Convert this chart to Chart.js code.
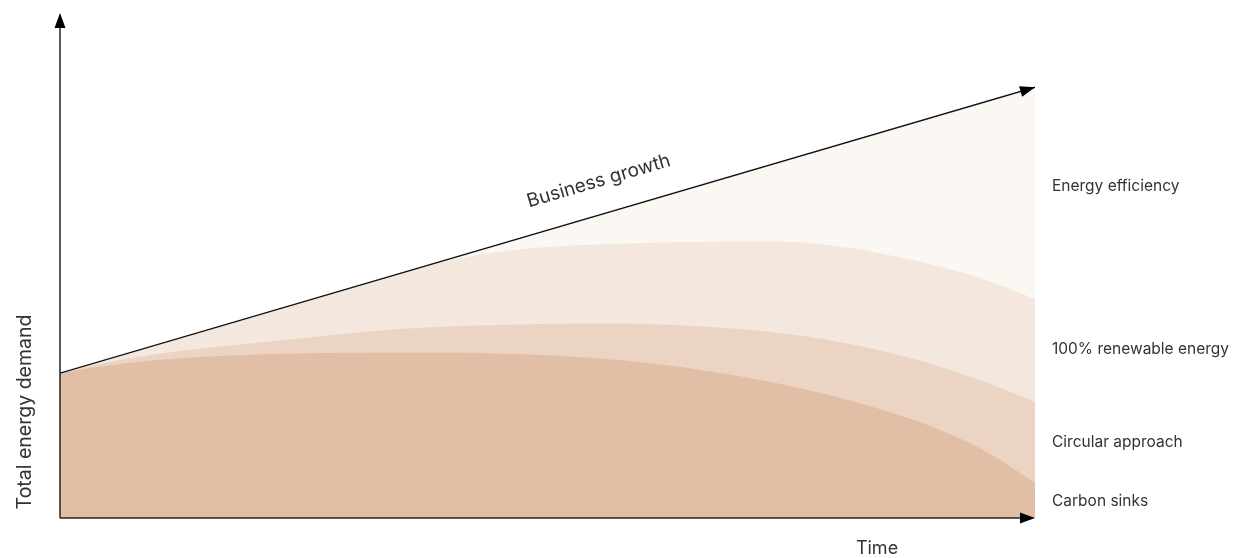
<!DOCTYPE html>
<html>
<head>
<meta charset="utf-8">
<script src="https://cdn.jsdelivr.net/npm/chart.js@4"></script>
<style>
  html, body { margin: 0; padding: 0; background: #ffffff; }
  #wrap { width: 1247px; height: 558px; position: relative; }
</style>
</head>
<body>
<div id="wrap"><canvas id="c" width="1247" height="558"></canvas></div>
<script>
// Time positions (0 = start, 100 = end of the time axis)
const timePoints = [0, 5, 10, 15, 20, 25, 30, 35, 40, 45, 50, 55, 60, 65, 70, 75, 80, 85, 90, 95, 100];

// Business growth (straight line, start and end)
const growthTime = [0, 100];
const growthValues = [28.7, 85.3];

// Top edges of each remaining band (total energy demand after each measure)
const renewableValues = [28.71, 31.54, 34.38, 37.21, 40.04, 42.87, 45.70, 48.44, 51.05, 52.67, 53.66, 54.16, 54.46, 54.65, 54.75, 54.65, 53.76, 52.08, 49.90, 47.13, 43.37];
const circularValues  = [28.71, 30.89, 32.48, 33.66, 34.65, 35.64, 36.63, 37.43, 37.92, 38.22, 38.42, 38.51, 38.42, 38.02, 37.37, 36.32, 34.82, 32.77, 30.12, 26.82, 22.97];
const carbonValues    = [28.71, 30.20, 31.30, 31.95, 32.35, 32.60, 32.72, 32.77, 32.77, 32.57, 32.22, 31.62, 30.72, 29.52, 27.97, 26.07, 23.77, 21.02, 17.62, 13.12, 6.92];

// Right-hand band labels and their vertical positions (in value units)
const bandLabels = ['Energy efficiency', '100% renewable energy', 'Circular approach', 'Carbon sinks'];
const bandLabelValues = [65.7, 33.3, 15.0, 3.2];

const colors = {
  efficiency: '#FBF7F2',
  renewable: '#F4E7DE',
  circular: '#ECD4C4',
  carbon: '#E1BFA6'
};

function pts(xs, ys) { return xs.map((x, i) => ({ x: x, y: ys[i] })); }

const FONT = 'Inter, "Liberation Sans", Arial, sans-serif';

const annotate = {
  id: 'annotate',
  afterDraw(chart) {
    const ctx = chart.ctx;
    const xs = chart.scales.x, ys = chart.scales.y;
    const x0 = xs.getPixelForValue(0), x1 = xs.getPixelForValue(100);
    const y0 = ys.getPixelForValue(0), yTop = ys.getPixelForValue(100);

    function arrowHead(tx, ty, angle, len, half) {
      ctx.save();
      ctx.translate(tx, ty);
      ctx.rotate(angle);
      ctx.beginPath();
      ctx.moveTo(0, 0);
      ctx.lineTo(-len, -half);
      ctx.lineTo(-len, half);
      ctx.closePath();
      ctx.fillStyle = '#000';
      ctx.fill();
      ctx.restore();
    }

    ctx.save();
    ctx.strokeStyle = '#222';
    ctx.lineWidth = 1.5;
    // y axis
    ctx.beginPath();
    ctx.moveTo(x0, y0);
    ctx.lineTo(x0, yTop + 10);
    ctx.stroke();
    arrowHead(x0, yTop, -Math.PI / 2, 15, 5.5);
    // x axis
    ctx.beginPath();
    ctx.moveTo(x0, y0);
    ctx.lineTo(x1 - 10, y0);
    ctx.stroke();
    arrowHead(x1, y0, 0, 15, 5.5);

    // growth arrowhead
    const gx0 = xs.getPixelForValue(growthTime[0]), gy0 = ys.getPixelForValue(growthValues[0]);
    const gx1 = xs.getPixelForValue(growthTime[1]), gy1 = ys.getPixelForValue(growthValues[1]);
    const ang = Math.atan2(gy1 - gy0, gx1 - gx0);
    arrowHead(gx1, gy1, ang, 15, 5.5);

    // Business growth label along the line
    const t = 0.562;
    const lx = gx0 + (gx1 - gx0) * t, ly = gy0 + (gy1 - gy0) * t;
    ctx.translate(lx, ly);
    ctx.rotate(ang);
    ctx.fillStyle = '#333';
    ctx.font = '19px ' + FONT;
    ctx.textAlign = 'center';
    ctx.textBaseline = 'alphabetic';
    ctx.fillText('Business growth', 0, -27);
    ctx.restore();

    // Axis titles
    ctx.save();
    ctx.fillStyle = '#333';
    ctx.font = '18px ' + FONT;
    ctx.textAlign = 'center';
    ctx.textBaseline = 'middle';
    ctx.fillText('Time', 877, y0 + 31);
    ctx.font = '19.5px ' + FONT;
    ctx.translate(25, 412);
    ctx.rotate(-Math.PI / 2);
    ctx.fillText('Total energy demand', 0, 0);
    ctx.restore();

    // Band labels
    ctx.save();
    ctx.fillStyle = '#333';
    ctx.font = '15.5px ' + FONT;
    ctx.textAlign = 'left';
    ctx.textBaseline = 'middle';
    bandLabels.forEach((lab, i) => {
      ctx.fillText(lab, x1 + 17, ys.getPixelForValue(bandLabelValues[i]));
    });
    ctx.restore();
  }
};

const areaCommon = { pointRadius: 0, borderWidth: 0, tension: 0.4, fill: 'origin' };

new Chart(document.getElementById('c'), {
  type: 'line',
  data: {
    datasets: [
      Object.assign({ label: 'Business growth line', data: pts(growthTime, growthValues), order: 0 },
        { pointRadius: 0, borderWidth: 1.3, borderColor: '#111', fill: false, tension: 0 }),
      Object.assign({}, areaCommon, { label: 'Energy efficiency', data: pts(growthTime, growthValues), backgroundColor: colors.efficiency, order: 4, tension: 0 }),
      Object.assign({}, areaCommon, { label: '100% renewable energy', data: pts(timePoints, renewableValues), backgroundColor: colors.renewable, order: 3 }),
      Object.assign({}, areaCommon, { label: 'Circular approach', data: pts(timePoints, circularValues), backgroundColor: colors.circular, order: 2 }),
      Object.assign({}, areaCommon, { label: 'Carbon sinks', data: pts(timePoints, carbonValues), backgroundColor: colors.carbon, order: 1 })
    ]
  },
  options: {
    responsive: false,
    animation: false,
    devicePixelRatio: 1,
    layout: { padding: { left: 60, right: 212, top: 13, bottom: 40 } },
    scales: {
      x: { type: 'linear', min: 0, max: 100, display: false },
      y: { type: 'linear', min: 0, max: 100, display: false }
    },
    plugins: { legend: { display: false }, tooltip: { enabled: false } },
    elements: { line: { borderJoinStyle: 'round' } }
  },
  plugins: [annotate]
});
</script>
</body>
</html>
